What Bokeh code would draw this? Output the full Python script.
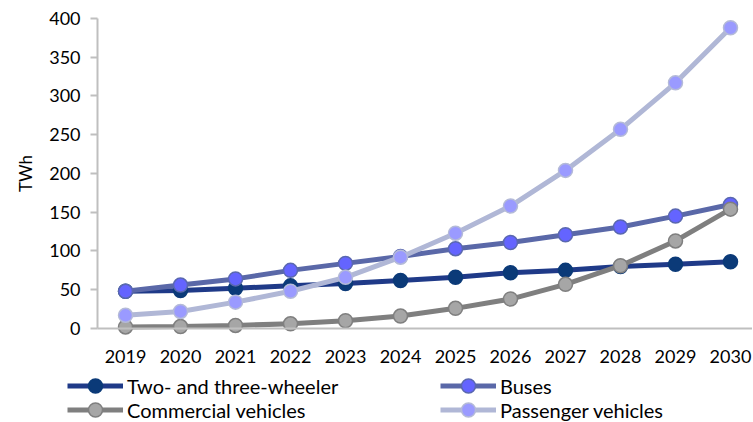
from bokeh.plotting import figure
from bokeh.models import Legend, LegendItem, Range1d, FixedTicker, LinearAxis
from bokeh.embed import file_html
from bokeh.resources import INLINE

years = [2019, 2020, 2021, 2022, 2023, 2024, 2025, 2026, 2027, 2028, 2029, 2030]
two_three = [48, 49, 52, 55, 58, 62, 66, 72, 75, 80, 83, 86]
buses = [48, 56, 64, 75, 84, 93, 103, 111, 121, 131, 145, 160]
commercial = [2, 2.5, 4, 6, 10, 16, 26, 38, 57, 81, 113, 154]
passenger = [17, 22, 34, 48, 66, 92, 123, 158, 204, 257, 317, 388]
y_ticks = [0, 50, 100, 150, 200, 250, 300, 350, 400]

series = [
    ("Two- and three-wheeler", two_three, "#1f3a88", "#0b3a78", "#0b3a78"),
    ("Buses", buses, "#5a68a8", "#6464ff", "#5a68b0"),
    ("Commercial vehicles", commercial, "#7f7f7f", "#a6a6a6", "#7f7f7f"),
    ("Passenger vehicles", passenger, "#b0b7d6", "#9a9aff", "#b4bad8"),
]

FONT = "Lato"
X0 = 2018.491  # where the value axis sits

p = figure(width=752, height=421, output_backend="svg", toolbar_location=None,
           x_range=Range1d(2016.727, 2030.4), y_range=Range1d(-120, 423.2),
           x_axis_location=None, y_axis_location=None,
           min_border_left=0, min_border_right=0, min_border_top=0, min_border_bottom=0)
p.outline_line_color = None
p.grid.grid_line_color = None
p.background_fill_color = "white"

items = []
for name, vals, lc, fc, oc in series:
    r1 = p.line(years, vals, line_color=lc, line_width=5)
    r2 = p.scatter(years, vals, size=14, fill_color=fc, line_color=oc, line_width=1.5)
    items.append(LegendItem(label=name, renderers=[r1, r2]))

xax = LinearAxis(fixed_location=0, ticker=FixedTicker(ticks=years), bounds=(X0, 2030.4))
yax = LinearAxis(fixed_location=X0, ticker=FixedTicker(ticks=y_ticks), bounds=(0, 400))
p.add_layout(xax, "below")
p.add_layout(yax, "left")
for ax in (xax, yax):
    ax.axis_line_color = "#bfbfbf"
    ax.axis_line_width = 2
    ax.major_label_text_font = FONT
    ax.major_label_text_font_size = "18px"
    ax.major_label_text_color = "black"
    ax.minor_tick_line_color = None
xax.major_tick_line_color = None
xax.major_label_standoff = 16
yax.major_tick_line_color = "#bfbfbf"
yax.major_tick_line_width = 2
yax.major_tick_out = 7
yax.major_tick_in = 0
yax.major_label_standoff = 10
yax.axis_label = "TWh"
yax.axis_label_text_font = FONT
yax.axis_label_text_font_size = "17px"
yax.axis_label_text_font_style = "normal"
yax.axis_label_text_color = "black"
yax.axis_label_standoff = 10

def mk_legend(item, loc):
    return Legend(items=[item], location=loc, orientation="vertical",
                  label_text_font=FONT, label_text_font_size="20px", label_text_color="black",
                  glyph_width=56, glyph_height=35, label_standoff=4, spacing=0,
                  padding=0, margin=0, border_line_color=None, background_fill_alpha=0,
                  label_height=20)

legend_pos = [(67, 18), (440, 18), (67, -6), (440, -6)]
for it, loc in zip(items, legend_pos):
    p.add_layout(mk_legend(it, loc), "center")

open("out.html", "w").write(file_html(p, INLINE))
